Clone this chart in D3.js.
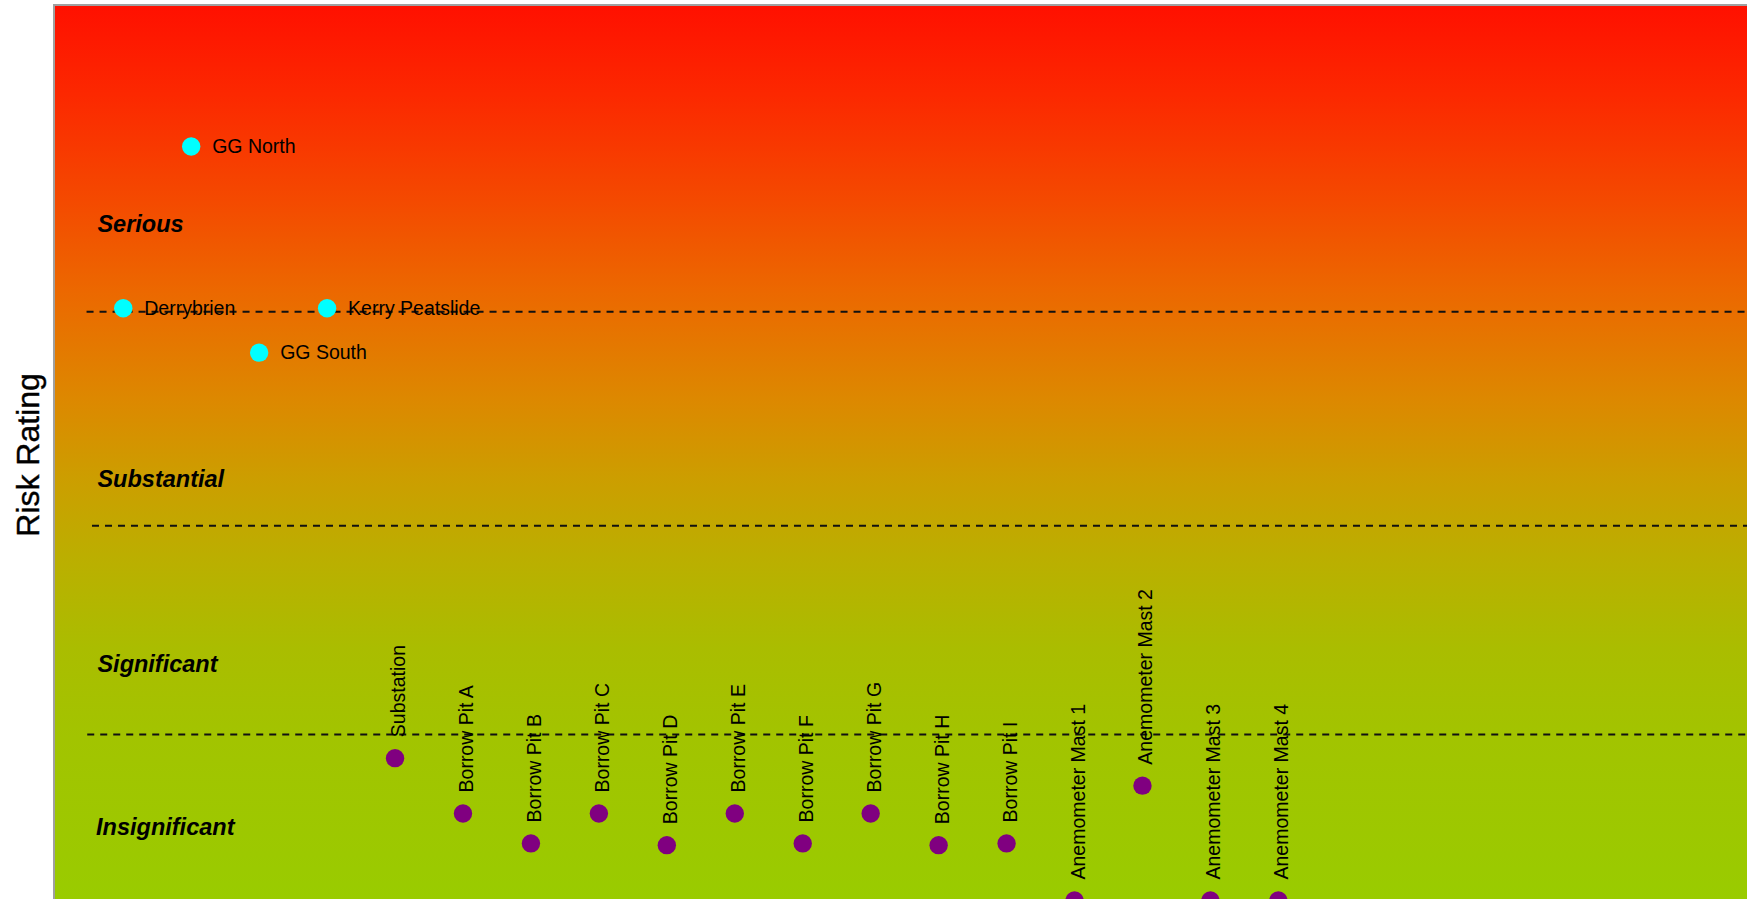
<!DOCTYPE html>
<html>
<head>
<meta charset="utf-8">
<script src="https://cdn.jsdelivr.net/npm/d3@7"></script>
<style>
  html, body { margin: 0; padding: 0; background: #ffffff; }
  svg { display: block; }
</style>
</head>
<body>
<div id="chart"></div>
<script>
// ---------------- data ----------------
const eventNames  = ["Derrybrien", "GG North", "GG South", "Kerry Peatslide"];
const eventX      = [1, 2, 3, 4];
const eventRating = [17.10, 21.69, 15.84, 17.10];

const siteNames = ["Substation", "Borrow Pit A", "Borrow Pit B", "Borrow Pit C", "Borrow Pit D",
                   "Borrow Pit E", "Borrow Pit F", "Borrow Pit G", "Borrow Pit H", "Borrow Pit I",
                   "Anemometer Mast 1", "Anemometer Mast 2", "Anemometer Mast 3", "Anemometer Mast 4"];
const siteX      = [5, 6, 7, 8, 9, 10, 11, 12, 13, 14, 15, 16, 17, 18];
const siteRating = [4.33, 2.76, 1.91, 2.76, 1.86, 2.76, 1.91, 2.76, 1.86, 1.91, 0.29, 3.55, 0.29, 0.29];

const bandNames  = ["Serious", "Substantial", "Significant", "Insignificant"];
const bandLabelY = [19.26, 12.03, 6.78, 2.15];
const bandLabelX = [0.62, 0.62, 0.62, 0.60];

const thresholdValues = [17, 10.93, 5];
const thresholdStartX = [0.46, 0.54, 0.47];

const yTitle = "Risk Rating";

// ---------------- layout ----------------
const W = 1747, H = 899;
const plotLeft = 54, plotTop = 5, plotRight = 1754, plotBottom = 910.7;

const x = d3.scaleLinear().domain([0, 25]).range([plotLeft + 1.3, plotRight]);
const y = d3.scaleLinear().domain([0, 25.7]).range([plotBottom, plotTop + 0.3]);

const svg = d3.select("#chart").append("svg")
  .attr("width", W).attr("height", H)
  .attr("viewBox", `0 0 ${W} ${H}`);

// gradient background
const defs = svg.append("defs");
const grad = defs.append("linearGradient")
  .attr("id", "bg").attr("gradientUnits", "userSpaceOnUse")
  .attr("x1", 0).attr("x2", 0).attr("y1", plotTop).attr("y2", H);
const stops = [
  [0.00, "#ff1000"], [0.10, "#fc2800"], [0.22, "#f44a00"], [0.32, "#ec6800"],
  [0.44, "#dd8800"], [0.53, "#cc9e00"], [0.62, "#bbaf00"], [0.72, "#aabd00"],
  [0.82, "#a2c400"], [0.95, "#9cc900"], [1.00, "#99cc00"]
];
grad.selectAll("stop").data(stops).join("stop")
  .attr("offset", d => d[0]).attr("stop-color", d => d[1]);

const clip = defs.append("clipPath").attr("id", "plotclip");
clip.append("rect").attr("x", plotLeft).attr("y", plotTop)
  .attr("width", plotRight - plotLeft).attr("height", plotBottom - plotTop);

svg.append("rect")
  .attr("x", plotLeft).attr("y", plotTop)
  .attr("width", plotRight - plotLeft).attr("height", plotBottom - plotTop)
  .attr("fill", "url(#bg)")
  .attr("stroke", "#a0a0a0").attr("stroke-width", 2);

const plot = svg.append("g").attr("clip-path", "url(#plotclip)");

// threshold lines
plot.selectAll("line.thr").data(thresholdValues).join("line")
  .attr("class", "thr")
  .attr("x1", (d, i) => x(thresholdStartX[i]))
  .attr("x2", x(25))
  .attr("y1", d => y(d)).attr("y2", d => y(d))
  .attr("stroke", "#111").attr("stroke-width", 2)
  .attr("stroke-dasharray", "7,6");

// band labels
plot.selectAll("text.band").data(bandNames).join("text")
  .attr("class", "band")
  .attr("x", (d, i) => x(bandLabelX[i]))
  .attr("y", (d, i) => y(bandLabelY[i]))
  .attr("font-family", "'Liberation Sans', Arial, sans-serif")
  .attr("font-size", 23.5).attr("font-weight", "bold").attr("font-style", "italic")
  .attr("fill", "#000")
  .text(d => d);

// event points (cyan)
const ev = eventNames.map((n, i) => ({ name: n, x: eventX[i], v: eventRating[i] }));
plot.selectAll("circle.ev").data(ev).join("circle")
  .attr("class", "ev")
  .attr("cx", d => x(d.x)).attr("cy", d => y(d.v))
  .attr("r", 9.2).attr("fill", "#00ffff");
plot.selectAll("text.ev").data(ev).join("text")
  .attr("class", "ev")
  .attr("x", d => x(d.x) + 21).attr("y", d => y(d.v))
  .attr("dy", "0.35em")
  .attr("font-family", "'Liberation Sans', Arial, sans-serif")
  .attr("font-size", 19.5).attr("fill", "#000")
  .text(d => d.name);

// site points (purple)
const st = siteNames.map((n, i) => ({ name: n, x: siteX[i], v: siteRating[i] }));
plot.selectAll("circle.st").data(st).join("circle")
  .attr("class", "st")
  .attr("cx", d => x(d.x)).attr("cy", d => y(d.v))
  .attr("r", 9.2).attr("fill", "#800080");
plot.selectAll("text.st").data(st).join("text")
  .attr("class", "st")
  .attr("transform", d => `translate(${x(d.x) + 10},${y(d.v) - 21}) rotate(-90)`)
  .attr("font-family", "'Liberation Sans', Arial, sans-serif")
  .attr("font-size", 19.5).attr("fill", "#000")
  .text(d => d.name);

// y axis title
svg.append("text")
  .attr("transform", `translate(39,${455}) rotate(-90)`)
  .attr("text-anchor", "middle")
  .attr("font-family", "'Liberation Sans', Arial, sans-serif")
  .attr("font-size", 32).attr("fill", "#000")
  .attr("stroke", "#000").attr("stroke-width", 0.4)
  .text(yTitle);
</script>
</body>
</html>
